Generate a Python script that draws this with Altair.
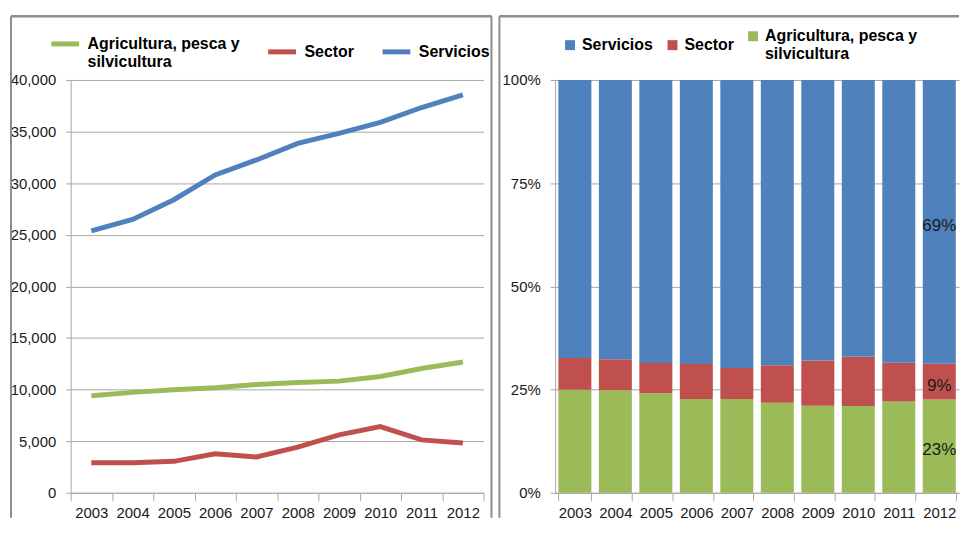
import altair as alt
import pandas as pd

# ---- data ----
years = ["2003", "2004", "2005", "2006", "2007", "2008", "2009", "2010", "2011", "2012"]
agricultura = [9400, 9730, 9980, 10170, 10500, 10690, 10820, 11270, 12040, 12680]
sector = [2920, 2920, 3050, 3790, 3470, 4430, 5620, 6420, 5130, 4830]
servicios = [25380, 26480, 28400, 30800, 32250, 33860, 34820, 35890, 37330, 38550]

series_names = ["Agricultura, pesca y silvicultura", "Sector", "Servicios"]
series_colors = ["#9BBB59", "#C0504D", "#4F81BD"]
left_ticks = [0, 5000, 10000, 15000, 20000, 25000, 30000, 35000, 40000]
right_ticks = [0, 0.25, 0.5, 0.75, 1.0]

rows = []
for i, y in enumerate(years):
    for k, (name, vals) in enumerate(zip(series_names, [agricultura, sector, servicios])):
        rows.append({"year": y, "serie": name, "valor": vals[i], "orden": k})
df = pd.DataFrame(rows)
one = pd.DataFrame({"k": [0]})

AXIS_FONT = "Liberation Sans, Arial, sans-serif"
LEG_FONT = "Liberation Sans, Arial, sans-serif"
GRID = "#a6a6a6"
FRAME = "#8c8c8c"
TEXT = "#1a1a1a"
label_expr = ("datum.label == 'Agricultura, pesca y silvicultura' ? "
              "['Agricultura, pesca y', 'silvicultura'] : datum.label")

W1, H = 415, 415
W2 = 406
FB = 440  # frame bottom (relative to plot top)

x_axis = dict(title=None, labelAngle=0, tickBand="extent", tickSize=8, labelPadding=5,
              grid=False, domainColor=GRID, tickColor=GRID, labelFont=AXIS_FONT,
              labelFontSize=15, labelColor=TEXT)
y_axis_common = dict(title=None, tickSize=5, labelPadding=10, domainColor=GRID, tickColor=GRID,
                     gridColor=GRID, grid=True, labelFont=AXIS_FONT, labelFontSize=15,
                     labelColor=TEXT)

# ---- left: lines ----
lines = alt.Chart(df).mark_line(strokeWidth=5).encode(
    x=alt.X("year:O", bandPosition=0.5,
            scale=alt.Scale(type="band", paddingInner=0, paddingOuter=0),
            axis=alt.Axis(**x_axis)),
    y=alt.Y("valor:Q", scale=alt.Scale(domain=[0, 40000]),
            axis=alt.Axis(values=left_ticks, format=",d", **y_axis_common)),
    color=alt.Color("serie:N",
                    scale=alt.Scale(domain=series_names, range=series_colors),
                    legend=alt.Legend(orient="none", legendX=-22, legendY=-53, direction="horizontal",
                                      title=None, symbolType="stroke", symbolStrokeWidth=5,
                                      symbolSize=784, labelOffset=6, columnPadding=18,
                                      labelExpr=label_expr, labelFont=LEG_FONT, labelFontSize=16,
                                      labelFontWeight="bold", labelColor="#000000", labelLimit=0)),
    order=alt.Order("orden:Q"),
)

frame_l = alt.Chart(one).mark_rule(color=FRAME, strokeWidth=2).encode(
    x=alt.value(-60), y=alt.value(-64), y2=alt.value(FB))
frame_t = alt.Chart(one).mark_rule(color=FRAME, strokeWidth=2.5).encode(
    x=alt.value(-60), x2=alt.value(423), y=alt.value(-64))
frame_r = alt.Chart(one).mark_rule(color=FRAME, strokeWidth=2).encode(
    x=alt.value(423), y=alt.value(-64), y2=alt.value(FB))

left = alt.layer(frame_l, frame_t, frame_r, lines).properties(width=W1, height=H)

# ---- right: 100% stacked bars ----
bars = alt.Chart(df).mark_bar().encode(
    x=alt.X("year:O", scale=alt.Scale(paddingInner=0.185, paddingOuter=0.08),
            axis=alt.Axis(**x_axis)),
    y=alt.Y("valor:Q", stack="normalize", scale=alt.Scale(domain=[0, 1]),
            axis=alt.Axis(values=right_ticks, format=".0%", **y_axis_common)),
    color=alt.Color("serie:N",
                    scale=alt.Scale(domain=series_names[::-1], range=series_colors[::-1]),
                    legend=alt.Legend(orient="none", legendX=7, legendY=-52, direction="horizontal",
                                      title=None, symbolType="square", symbolSize=100,
                                      symbolStrokeWidth=0, labelOffset=4, columnPadding=11,
                                      labelExpr=label_expr, labelFont=LEG_FONT, labelFontSize=16,
                                      labelFontWeight="bold", labelColor="#000000", labelLimit=0)),
    order=alt.Order("orden:Q"),
)

labels = alt.Chart(df).transform_stack(
    stack="valor", groupby=["year"], as_=["v0", "v1"], offset="normalize",
    sort=[alt.SortField("orden", order="ascending")]
).transform_filter(
    alt.datum.year == years[-1]
).transform_calculate(
    mid="(datum.v0 + datum.v1) / 2",
    pct="format(datum.v1 - datum.v0, '.0%')",
).mark_text(font=AXIS_FONT, fontSize=17, color=TEXT, dy=4).encode(
    x=alt.X("year:O", bandPosition=0.5),
    y=alt.Y("mid:Q"),
    text="pct:N",
)

frame2_l = alt.Chart(one).mark_rule(color=FRAME, strokeWidth=2).encode(
    x=alt.value(-56), y=alt.value(-64), y2=alt.value(FB))
frame2_t = alt.Chart(one).mark_rule(color=FRAME, strokeWidth=2.5).encode(
    x=alt.value(-56), x2=alt.value(W2), y=alt.value(-64))

right = alt.layer(frame2_l, frame2_t, bars, labels).properties(width=W2, height=H)

chart = alt.hconcat(left, right, spacing=72, bounds="flush").resolve_scale(
    color="independent", x="independent", y="independent"
).resolve_legend(color="independent").properties(
    padding={"left": 1, "top": 5, "right": 0, "bottom": 0}
).configure_view(stroke=None)

chart.save("out.html", embed_options={"renderer": "svg", "actions": False})
